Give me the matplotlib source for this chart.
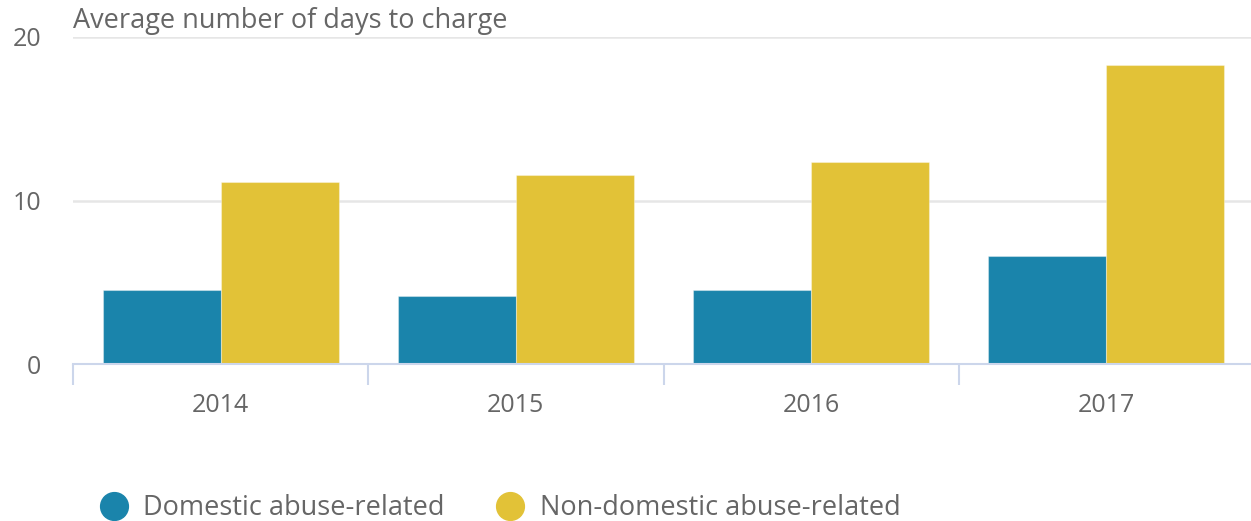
import matplotlib.pyplot as plt
import numpy as np
from matplotlib.lines import Line2D

years = ["2014", "2015", "2016", "2017"]
domestic = [4.55, 4.15, 4.55, 6.6]
non_domestic = [11.13, 11.55, 12.37, 18.29]
series_names = ["Domestic abuse-related", "Non-domestic abuse-related"]
colors = ["#1a84ab", "#e2c237"]

plt.rcParams['font.family'] = ['Open Sans', 'DejaVu Sans']
TEXT = "#666666"

W, H = 1251, 521
fig = plt.figure(figsize=(W / 100, H / 100), dpi=100)
ax = fig.add_axes([73 / W, 1 - 364 / H, 1181 / W, 327 / H])

x = np.arange(len(years))
bw = 0.4
ax.bar(x - bw / 2, domestic, bw, color=colors[0], edgecolor=(1, 1, 1, 0.35), linewidth=0.8, zorder=3)
ax.bar(x + bw / 2, non_domestic, bw, color=colors[1], edgecolor=(1, 1, 1, 0.35), linewidth=0.8, zorder=3)

ax.set_xlim(-0.5, 3.5)
ax.set_ylim(0, 20)
ax.set_yticks([0, 10, 20])
ax.yaxis.grid(True, color="#e6e6e6", linewidth=1.8, zorder=0)
ax.set_xticks(x)
ax.set_xticklabels(years)
ax.set_xticks(np.arange(-0.5, 4, 1), minor=True)
ax.tick_params(axis='x', which='major', length=0, pad=21, labelsize=18, labelcolor=TEXT)
ax.tick_params(axis='x', which='minor', length=15, width=1.5, color="#ccd6eb")
ax.tick_params(axis='y', length=0, pad=23, labelsize=18, labelcolor=TEXT)
for s in ['top', 'right', 'left']:
    ax.spines[s].set_visible(False)
ax.spines['bottom'].set_color("#ccd6eb")
ax.spines['bottom'].set_linewidth(1.5)
ax.spines['bottom'].set_zorder(4)

fig.text(73 / W, 1 - 21 / H, "Average number of days to charge", fontsize=19.5, color=TEXT,
         ha='left', va='center')

handles = [Line2D([], [], marker='o', linestyle='none', markersize=20, markerfacecolor=c,
                  markeredgecolor=c) for c in colors]
fig.legend(handles, series_names, loc='center left', bbox_to_anchor=(100 / W, 1 - 508 / H),
           frameon=False, ncol=2, fontsize=19.5, labelcolor=TEXT, handletextpad=0.6,
           columnspacing=1.9, handlelength=1.0, borderaxespad=0, borderpad=0)

fig.savefig("out.png", dpi=100)
